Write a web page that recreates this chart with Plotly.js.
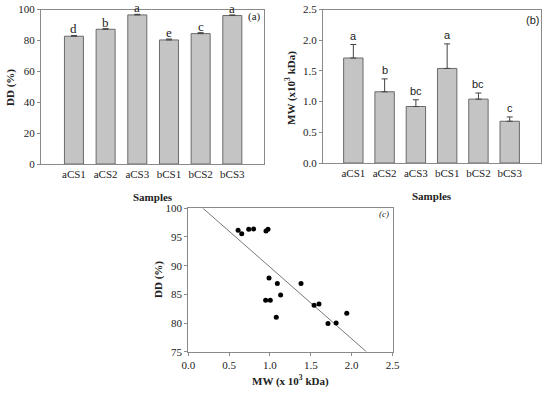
<!DOCTYPE html>
<html>
<head>
<meta charset="utf-8">
<script src="https://cdn.plot.ly/plotly-3.0.1.min.js"></script>
<style>html,body{margin:0;padding:0;background:#fff;}#chart{width:550px;height:394px;}</style>
</head>
<body>
<div id="chart"></div>
<script>
// ---- data ----
var samples = ['aCS1', 'aCS2', 'aCS3', 'bCS1', 'bCS2', 'bCS3'];
var ddMean = [82.7, 87.2, 96.5, 80.3, 84.4, 96.1];
var ddErr = [0.5, 0.4, 0.4, 0.6, 0.6, 0.4];
var ddLetters = ['d', 'b', 'a', 'e', 'c', 'a'];
var mwMean = [1.71, 1.16, 0.92, 1.54, 1.04, 0.68];
var mwErr = [0.22, 0.21, 0.11, 0.40, 0.10, 0.07];
var mwLetters = ['a', 'b', 'bc', 'a', 'bc', 'c'];
var scatterMW = [0.61, 0.654, 0.74, 0.80, 0.951, 0.976, 0.988, 1.09, 1.38, 1.13, 0.947, 1.004, 1.077, 1.54, 1.60, 1.94, 1.71, 1.81];
var scatterDD = [96.16, 95.58, 96.33, 96.4, 96.05, 96.33, 87.85, 86.9, 86.9, 84.9, 83.95, 83.95, 81.0, 83.1, 83.3, 81.7, 79.9, 80.0];
var fitMW = [0.18, 2.18];
var fitDD = [100, 75];
var ddTicks = [0, 20, 40, 60, 80, 100];
var mwTicks = [0, 0.5, 1.0, 1.5, 2.0, 2.5];
var cxTicks = [0, 0.5, 1.0, 1.5, 2.0, 2.5];
var cyTicks = [75, 80, 85, 90, 95, 100];

// ---- style ----
var SERIF = 'Liberation Serif, Times New Roman, serif';
var SANS = 'Liberation Sans, Arial, sans-serif';
var AX = '#8a8a8a';
var TXT = '#222';
function zeros(n){var a=[];for(var i=0;i<n;i++)a.push(0);return a;}

var traces = [
  {type:'bar', x:samples, y:ddMean, xaxis:'x', yaxis:'y', width:0.6,
   marker:{color:'#c4c4c4', line:{color:'#6a6a6a', width:1}},
   error_y:{type:'data', symmetric:false, array:ddErr, arrayminus:zeros(6), color:'#444', thickness:1, width:3},
   hoverinfo:'none', showlegend:false},
  {type:'bar', x:samples, y:mwMean, xaxis:'x2', yaxis:'y2', width:0.62,
   marker:{color:'#c4c4c4', line:{color:'#6a6a6a', width:1}},
   error_y:{type:'data', symmetric:false, array:mwErr, arrayminus:zeros(6), color:'#444', thickness:1, width:3},
   hoverinfo:'none', showlegend:false},
  {type:'scatter', mode:'lines', x:fitMW, y:fitDD, xaxis:'x3', yaxis:'y3',
   line:{color:'#777', width:1}, hoverinfo:'none', showlegend:false},
  {type:'scatter', mode:'markers', x:scatterMW, y:scatterDD, xaxis:'x3', yaxis:'y3',
   marker:{color:'#000', size:5}, hoverinfo:'none', showlegend:false, cliponaxis:false}
];

function baseAxis(extra){
  var o = {showline:true, linecolor:AX, linewidth:1, mirror:true, showgrid:false, zeroline:false,
           tickfont:{family:SERIF, size:11, color:TXT}, ticks:'outside', ticklen:3, tickcolor:AX};
  for (var k in extra) o[k] = extra[k];
  return o;
}

var annotations = [];
for (var i = 0; i < samples.length; i++) {
  annotations.push({xref:'x', yref:'y', x:samples[i], y:ddMean[i]+ddErr[i], text:ddLetters[i],
    showarrow:false, yanchor:'bottom', yshift:-3, font:{family:SERIF, size:13, color:TXT}});
  annotations.push({xref:'x2', yref:'y2', x:samples[i], y:mwMean[i]+mwErr[i], text:mwLetters[i],
    showarrow:false, yanchor:'bottom', yshift:1, font:{family:SANS, size:11, color:TXT}});
}
function pa(text, x, y, opts){
  var a = {xref:'paper', yref:'paper', x:x/550, y:1-y/394, text:text, showarrow:false,
           xanchor:'center', yanchor:'middle', font:{family:SERIF, size:11, color:TXT}};
  for (var k in opts) a[k] = opts[k];
  return a;
}
annotations.push(pa('(a)', 254, 16, {font:{family:SERIF, size:11, color:TXT}}));
annotations.push(pa('(b)', 532, 20, {font:{family:SANS, size:11, color:TXT}}));
annotations.push(pa('<i>(c)</i>', 384, 214, {font:{family:SERIF, size:9, color:TXT}}));
annotations.push(pa('<b>DD (%)</b>', 10, 88, {textangle:-90}));
annotations.push(pa('<b>Samples</b>', 152.5, 197));
annotations.push(pa('<b>MW (x10<sup>3</sup> kDa)</b>', 290, 88, {textangle:-90}));
annotations.push(pa('<b>Samples</b>', 432, 196));
annotations.push(pa('<b>DD (%)</b>', 158, 280, {textangle:-90}));
annotations.push(pa('<b>MW (x 10<sup>3</sup> kDa)</b>', 290, 380));

var layout = {
  width:550, height:394, margin:{l:0, r:0, t:0, b:0}, paper_bgcolor:'#fff', plot_bgcolor:'#fff',
  showlegend:false, bargap:0,
  xaxis: baseAxis({domain:[41/550, 264/550], anchor:'y', range:[-1.04, 6], ticks:'', type:'category'}),
  yaxis: baseAxis({domain:[1-164/394, 1-9.5/394], anchor:'x', range:[0, 100], tickvals:ddTicks}),
  xaxis2: baseAxis({domain:[323/550, 541/550], anchor:'y2', range:[-0.97, 6], ticks:'', type:'category'}),
  yaxis2: baseAxis({domain:[1-163/394, 1-9.5/394], anchor:'x2', range:[0, 2.5], tickvals:mwTicks, tickformat:'.1f'}),
  xaxis3: baseAxis({domain:[188.3/550, 392.5/550], anchor:'y3', range:[0, 2.5], tickvals:cxTicks, tickformat:'.1f'}),
  yaxis3: baseAxis({domain:[1-351.7/394, 1-208.3/394], anchor:'x3', range:[75, 100], tickvals:cyTicks}),
  annotations: annotations
};

Plotly.newPlot('chart', traces, layout, {staticPlot:true, displayModeBar:false});
</script>
</body>
</html>
